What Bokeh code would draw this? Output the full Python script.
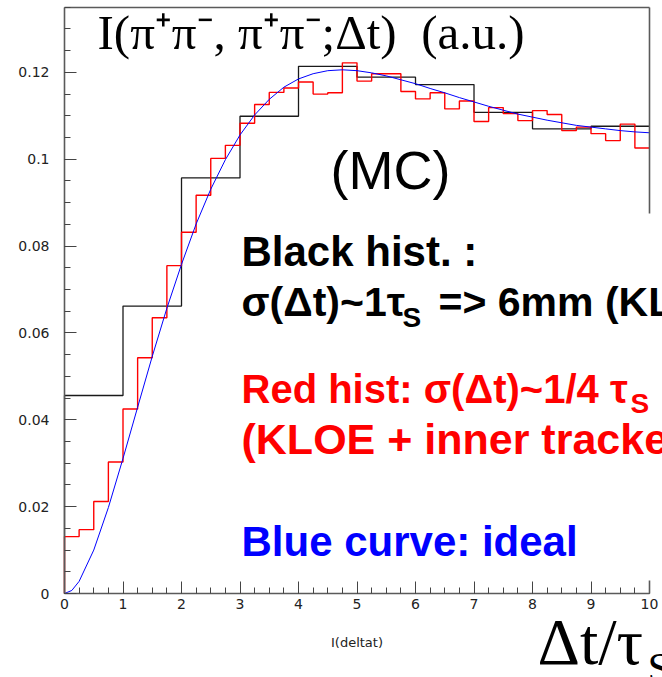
from bokeh.plotting import figure
from bokeh.models import (Label, Range1d, SingleIntervalTicker, FixedTicker,
                          CustomJSTickFormatter, LinearAxis)
from bokeh.embed import file_html
from bokeh.resources import INLINE

# ---- data ----
black_edges = [0, 1, 2, 3, 4, 5, 6, 7, 8, 9, 10]
black_vals = [0.0456, 0.0662, 0.0957, 0.1099, 0.1214, 0.1189, 0.1172, 0.1108, 0.1070, 0.1076]

red_edges = [i * 0.25 for i in range(41)]
red_vals = [0.0131, 0.0147, 0.0212, 0.0303, 0.0425, 0.0543, 0.0635, 0.0755,
            0.0832, 0.0917, 0.1002, 0.1032, 0.1083, 0.1126, 0.1154, 0.1164,
            0.1178, 0.1150, 0.1153, 0.1222, 0.1180, 0.1197, 0.1197, 0.1156,
            0.1139, 0.1153, 0.1116, 0.1134, 0.1087, 0.1119, 0.1105, 0.1089,
            0.1112, 0.1103, 0.1066, 0.1074, 0.1059, 0.1043, 0.1081, 0.1026]

curve_t = [0, 0.125, 0.25, 0.5, 0.75, 1.0, 1.25, 1.5, 1.75, 2.0, 2.25, 2.5, 2.75,
           3.0, 3.25, 3.5, 3.75, 4.0, 4.25, 4.5, 4.75, 5.0, 5.25, 5.5, 5.75,
           6.0, 6.25, 6.5, 6.75, 7.0, 7.25, 7.5, 7.75, 8.0, 8.25, 8.5, 8.75,
           9.0, 9.25, 9.5, 9.75, 10.0]
curve_y = [0, 0.0007, 0.0028, 0.0100, 0.0198, 0.0311, 0.0429, 0.0546, 0.0657,
           0.0758, 0.0851, 0.0931, 0.0999, 0.1056, 0.1102, 0.1138, 0.1166,
           0.1185, 0.1197, 0.1204, 0.1206, 0.1204, 0.1199, 0.1192, 0.1183,
           0.1174, 0.1163, 0.1153, 0.1142, 0.1132, 0.1122, 0.1113, 0.1104,
           0.1097, 0.1090, 0.1084, 0.1078, 0.1074, 0.1070, 0.1066, 0.1063, 0.1061]

X_MIN, X_MAX = 0, 10
Y_MIN, Y_MAX = 0, 0.135


def hist_outline(edges, vals):
    xs = [edges[0]]
    ys = [0.0]
    for i, v in enumerate(vals):
        xs += [edges[i], edges[i + 1]]
        ys += [v, v]
    return xs, ys


W, H = 662, 677
# the frame covers the whole canvas; axes are drawn at fixed locations inside it
p = figure(width=W, height=H, x_range=Range1d(-1.094, 10.222), y_range=Range1d(-0.019344, 0.13656),
           output_backend="svg", toolbar_location=None,
           min_border_left=0, min_border_right=0, min_border_top=0, min_border_bottom=0)

p.xgrid.visible = False
p.ygrid.visible = False
p.background_fill_color = "white"
p.border_fill_color = "white"
p.outline_line_color = None

AX_COL = "#5a5a5a"
fmt = CustomJSTickFormatter(code="return Number(tick.toFixed(3)).toString();")
p.xaxis.ticker = SingleIntervalTicker(interval=1, num_minor_ticks=4)
p.yaxis.ticker = SingleIntervalTicker(interval=0.02, num_minor_ticks=4)
p.xaxis.fixed_location = Y_MIN
p.yaxis.fixed_location = X_MIN
p.xaxis.bounds = (X_MIN, X_MAX)
p.yaxis.bounds = (Y_MIN, Y_MAX)
for ax in (p.xaxis[0], p.yaxis[0]):
    ax.formatter = fmt
    ax.axis_line_color = AX_COL
    ax.axis_line_width = 1.6
    ax.major_tick_in = 12
    ax.major_tick_out = 0
    ax.minor_tick_in = 6
    ax.minor_tick_out = 0
    ax.major_tick_line_color = "#444444"
    ax.minor_tick_line_color = "#444444"
    ax.major_label_text_font = "DejaVu Sans"
    ax.major_label_text_font_size = "14px"
    ax.major_label_text_color = "#222222"
p.xaxis.major_label_standoff = 5
p.yaxis.major_label_standoff = 15
p.xaxis.axis_label = "I(deltat)"
p.xaxis.axis_label_text_font = "DejaVu Sans"
p.xaxis.axis_label_text_font_size = "13px"
p.xaxis.axis_label_text_font_style = "normal"
p.xaxis.axis_label_text_color = "#222222"
p.xaxis.axis_label_standoff = 23


def frame_edge(place, loc, bounds):
    ax = LinearAxis(fixed_location=loc, bounds=bounds, ticker=FixedTicker(ticks=[]),
                    major_label_text_font_size="0px", axis_line_color=AX_COL,
                    axis_line_width=1.6, major_tick_line_color=None,
                    minor_tick_line_color=None)
    p.add_layout(ax, place)


frame_edge("above", Y_MAX, (X_MIN, X_MAX))
frame_edge("right", X_MAX, (0.0875, Y_MAX))   # upper part of the right edge
frame_edge("right", X_MAX, (Y_MIN, 0.003))    # lower stub (middle hidden by the text box)

bx, by = hist_outline(black_edges, black_vals)
p.line(bx, by, line_color="#1a1a1a", line_width=1.3)
rx, ry = hist_outline(red_edges, red_vals)
p.line(rx, ry, line_color="#ff0000", line_width=1.4)
p.line(curve_t, curve_y, line_color="#0000ff", line_width=1.0)


def lab(text, x, y, size, color="black", font="Liberation Sans", style="normal"):
    # x, y: left edge and baseline in page pixels from the top-left corner
    p.add_layout(Label(x=x, y=H - y + 0.33 * size, x_units="screen", y_units="screen",
                       text=text, text_font=font,
                       text_font_size=f"{size}px", text_color=color,
                       text_font_style=style, text_baseline="alphabetic",
                       text_align="left", level="overlay"))


lab("I(\u03c0\u207a\u03c0\u207b, \u03c0\u207a\u03c0\u207b;\u0394t)\u00a0 (a.u.)", 97, 48, 49,
    font="Liberation Serif")
lab("(MC)", 330, 187, 54)
lab("Black hist. :", 241, 265, 42, style="bold")
lab("\u03c3(\u0394t)~1\u03c4", 241, 315, 41, style="bold")
lab("S", 402, 326, 28, style="bold")
lab("=> 6mm (KLOE)", 438, 315, 41, style="bold")
lab("Red hist: \u03c3(\u0394t)~1/4 \u03c4", 241, 402, 40, color="#ff0000", style="bold")
lab("S", 630, 412, 28, color="#ff0000", style="bold")
lab("(KLOE + inner tracker)", 241, 453, 43, color="#ff0000", style="bold")
lab("Blue curve: ideal", 241, 555, 42, color="#0000ff", style="bold")
lab("\u0394t/\u03c4", 537, 663, 66, font="Liberation Serif")
lab("S", 647, 683, 44, font="Liberation Serif")

open("out.html", "w").write(file_html(p, INLINE))
